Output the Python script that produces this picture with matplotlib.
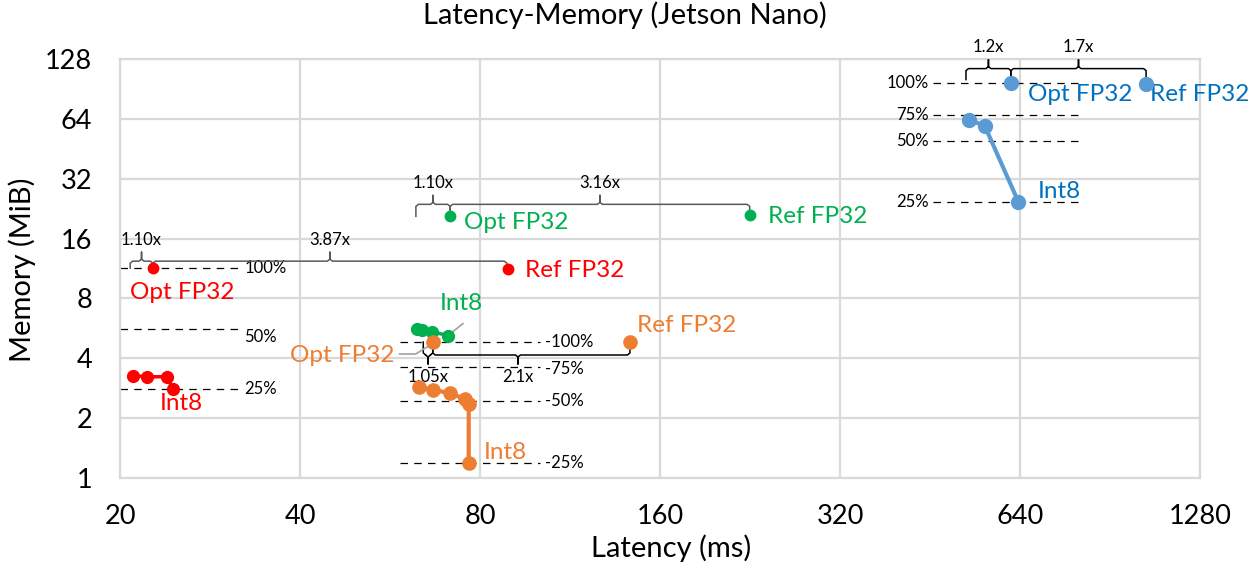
import matplotlib
matplotlib.use("Agg")
import matplotlib.pyplot as plt

plt.rcParams['font.family'] = ['Lato', 'DejaVu Sans']

# ---- data (latency ms, memory MiB) ----
red_opt = (22.7, 11.36)
red_ref = (89.1, 11.2)
red_int8_x = [21.05, 22.2, 24.0, 24.5]
red_int8_y = [3.27, 3.23, 3.23, 2.79]
red_lines_y = [11.36, 5.61, 2.79]
red_lines_lab = ['100%', '50%', '25%']
red_brace_x = [20.8, 22.7, 88.7]
red_brace_lab = ['1.10x', '3.87x']

green_opt = (71.3, 20.7)
green_ref = (226.0, 21.0)
green_int8_x = [62.7, 64.0, 66.6, 70.7]
green_int8_y = [5.62, 5.58, 5.44, 5.20]
green_brace_x = [62.5, 71.3, 226.0]
green_brace_lab = ['1.10x', '3.16x']

orange_opt = (66.7, 4.83)
orange_ref = (142.5, 4.83)
orange_int8_x = [63.3, 66.8, 71.4, 75.6, 76.6, 76.6]
orange_int8_y = [2.86, 2.77, 2.67, 2.49, 2.35, 1.19]
orange_lines_y = [4.83, 3.6, 2.43, 1.19]
orange_lines_lab = ['-100%', '-75%', '-50%', '-25%']
orange_brace_x = [64.3, 66.7, 142.5]
orange_brace_mid = [65.5, 92.6]
orange_brace_lab = ['1.05x', '2.1x']

blue_opt = (618.0, 97.4)
blue_ref = (1040.0, 96.3)
blue_int8_x = [526.6, 559.0, 636.0]
blue_int8_y = [63.5, 58.8, 24.5]
blue_lines_y = [97.4, 67.3, 49.4, 24.4]
blue_lines_lab = ['100%', '75%', '50%', '25%']
blue_brace_x = [519.8, 618.0, 1040.0]
blue_brace_lab = ['1.2x', '1.7x']

x_ticks = [20, 40, 80, 160, 320, 640, 1280]
y_ticks = [1, 2, 4, 8, 16, 32, 64, 128]

RED, GREEN, ORANGE, BLUE = '#ff0000', '#00b050', '#ed7d31', '#5b9bd5'
BLUE_TXT = '#0070c0'
SMALL = 12
BIG = 17.5

# pixel helpers for log2 axes (180 px per doubling in x, 60 px in y)
def xo(x, px):
    return x * 2 ** (px / 180.0)

def yo(y, px):
    return y * 2 ** (px / 59.9)

fig = plt.figure(figsize=(12.49, 5.68), dpi=100)
ax = fig.add_axes([120 / 1249, 1 - 478 / 568, 1080 / 1249, 419 / 568])
ax.set_xscale('log', base=2)
ax.set_yscale('log', base=2)
ax.set_xlim(20, 1280)
ax.set_ylim(1, 128)
ax.set_xticks(x_ticks)
ax.set_xticklabels([str(v) for v in x_ticks])
ax.set_yticks(y_ticks)
ax.set_yticklabels([str(v) for v in y_ticks])
ax.minorticks_off()
ax.tick_params(length=0, labelsize=19.5)
ax.tick_params(axis='x', pad=19)
ax.tick_params(axis='y', pad=20)
ax.grid(True, color='#d9d9d9', linewidth=1.6)
for s in ax.spines.values():
    s.set_color('#d9d9d9')
    s.set_linewidth(1.6)
ax.set_axisbelow(True)
fig.text(625 / 1249, 1 - 15 / 568, 'Latency-Memory (Jetson Nano)', fontsize=21,
         ha='center', va='center')
fig.text(671 / 1249, 1 - 548 / 568, 'Latency (ms)', fontsize=21, ha='center', va='center')
fig.text(22 / 1249, 1 - 270 / 568, 'Memory (MiB)', fontsize=21, ha='center', va='center',
         rotation=90)


def dashes(x0, x1, ys):
    for y in ys:
        ax.plot([x0, x1], [y, y], color='black', lw=0.9, ls=(0, (6, 5)), zorder=2)


def brace(xs, y, labels, color, up=True, end_px=8, lab_px=21, mids=None):
    # curly brace joining three latency points, middle ticks carry the labels
    s = 1 if up else -1
    if mids is None:
        mids = [(xs[0] * xs[1]) ** 0.5, (xs[1] * xs[2]) ** 0.5]
    for (a, b), m, lab in zip([(xs[0], xs[1]), (xs[1], xs[2])], mids, labels):
        px = [a, a, xo(a, 2.5), xo(m, -2.5), m, m, m, xo(m, 2.5), xo(b, -2.5), b, b]
        py = [yo(y, -s * end_px), yo(y, -s * 2), y, y, yo(y, s * 2), yo(y, s * 9),
              yo(y, s * 2), y, y, yo(y, -s * 2), yo(y, -s * end_px)]
        ax.plot(px, py, color=color, lw=1.1, zorder=3, solid_joinstyle='round')
        ax.text(m, yo(y, s * lab_px), lab, ha='center', va='center', fontsize=SMALL)


def label(txt, xy, dx, dy, color, ha='left', size=BIG):
    ax.annotate(txt, xy=xy, xytext=(dx, dy), textcoords='offset pixels',
                ha=ha, va='center', color=color, fontsize=size)


# ---- red ----
dashes(20.0, 31.7, red_lines_y)
for y, lab, d in zip(red_lines_y, red_lines_lab, [0, -8, 0]):
    ax.annotate(lab, xy=(31.7, y), xytext=(5, d), textcoords='offset pixels',
                ha='left', va='center', fontsize=SMALL)
brace(red_brace_x, yo(red_opt[1], 7), red_brace_lab, '#595959', up=True, end_px=7, lab_px=21)
ax.plot(red_int8_x, red_int8_y, '-o', color=RED, lw=2.5, ms=8.5, zorder=4)
ax.plot(*red_opt, 'o', color=RED, ms=7.5, zorder=4)
ax.plot(*red_ref, 'o', color=RED, ms=7.5, zorder=4)
label('Opt FP32', red_opt, -23, -24, RED)
label('Ref FP32', red_ref, 17, -1, RED)
label('Int8', (red_int8_x[-1], red_int8_y[-1]), -13, -14, RED)

# ---- green ----
brace(green_brace_x, yo(green_opt[1], 12), green_brace_lab, '#595959', up=True, end_px=12, lab_px=21)
ax.plot(green_int8_x, green_int8_y, '-o', color=GREEN, lw=2.5, ms=8.5, zorder=4)
ax.plot(*green_opt, 'o', color=GREEN, ms=7.5, zorder=4)
ax.plot(*green_ref, 'o', color=GREEN, ms=7.5, zorder=4)
label('Opt FP32', green_opt, 14, -6, GREEN)
label('Ref FP32', green_ref, 18, -1, GREEN)
gx, gy = green_int8_x[-1], green_int8_y[-1]
ax.plot([gx, xo(gx, 15)], [gy, yo(gy, 12)], color='#a6a6a6', lw=1.3, zorder=3)
label('Int8', (gx, gy), -8, 32, GREEN)

# ---- orange ----
dashes(58.9, 100.8, orange_lines_y)
for y, lab, d in zip(orange_lines_y, orange_lines_lab, [0, -2, 0, 0]):
    ax.annotate(lab, xy=(100.8, y), xytext=(5, d), textcoords='offset pixels',
                ha='left', va='center', fontsize=SMALL)
brace(orange_brace_x, yo(orange_opt[1], -13), orange_brace_lab, 'black', up=False,
      end_px=13, lab_px=22, mids=orange_brace_mid)
ox, oy = orange_opt
ax.plot([xo(ox, -33), xo(ox, -17), xo(ox, 7)], [yo(oy, -12), yo(oy, -12), yo(oy, 3)],
        color='#a6a6a6', lw=1.3, zorder=3)
ax.plot(orange_int8_x, orange_int8_y, '-o', color=ORANGE, lw=3, ms=9.5, zorder=4)
ax.plot(*orange_opt, 'o', color=ORANGE, ms=9.5, zorder=5)
ax.plot(*orange_ref, 'o', color=ORANGE, ms=9.5, zorder=4)
label('Opt FP32', orange_opt, -38, -13, ORANGE, ha='right')
label('Ref FP32', orange_ref, 7, 17, ORANGE)
label('Int8', (orange_int8_x[-1], orange_int8_y[-1]), 15, 10, ORANGE)

# ---- blue ----
dashes(458.0, 816.0, blue_lines_y)
for y, lab in zip(blue_lines_y, blue_lines_lab):
    ax.annotate(lab, xy=(458.0, y), xytext=(-4, 0), textcoords='offset pixels',
                ha='right', va='center', fontsize=SMALL)
brace(blue_brace_x, yo(blue_opt[1], 14), blue_brace_lab, 'black', up=True, end_px=11, lab_px=22)
ax.plot(blue_int8_x, blue_int8_y, '-o', color=BLUE, lw=3, ms=10, zorder=4)
ax.plot(*blue_opt, 'o', color=BLUE, ms=10, zorder=4)
ax.plot(*blue_ref, 'o', color=BLUE, ms=10, zorder=4)
label('Opt FP32', blue_opt, 17, -12, BLUE_TXT)
label('Ref FP32', blue_ref, 4, -11, BLUE_TXT)
label('Int8', (blue_int8_x[-1], blue_int8_y[-1]), 19, 10, BLUE_TXT)

fig.savefig('out.png', dpi=100)
